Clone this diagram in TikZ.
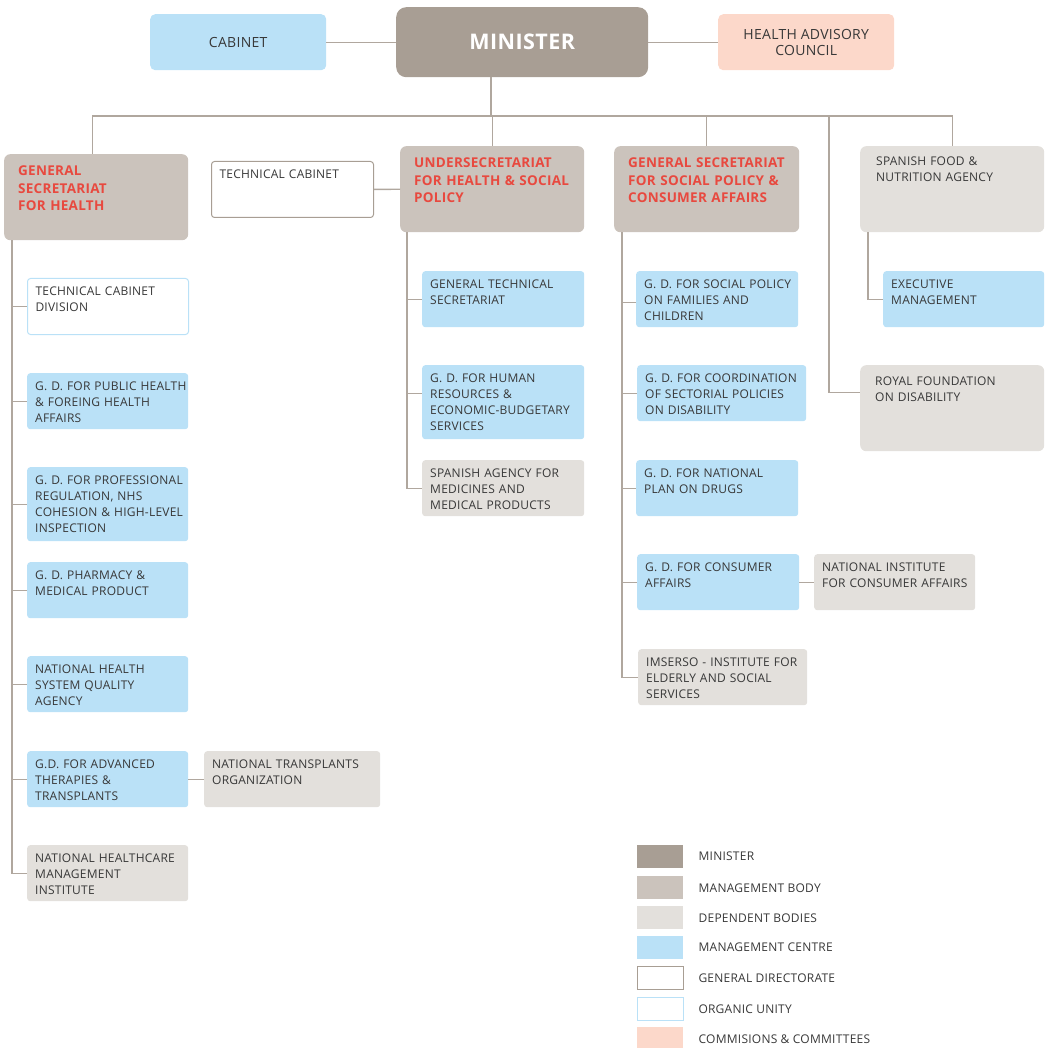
\documentclass[tikz,border=0pt]{standalone}
\usepackage{fontspec}
\setmainfont{Open Sans}[LetterSpace=2]
\usetikzlibrary{calc,positioning}

\definecolor{cmin}{HTML}{A89E94}
\definecolor{cbody}{HTML}{CBC3BC}
\definecolor{cdep}{HTML}{E3E0DC}
\definecolor{ccen}{HTML}{BAE1F7}
\definecolor{ccom}{HTML}{FCD8CA}
\definecolor{cred}{HTML}{E8493F}
\definecolor{ctxt}{HTML}{383838}
\definecolor{cline}{HTML}{B0A79E}

\newcommand{\unitfont}{\fontsize{12}{16}\selectfont}
\newcommand{\headfont}{\fontsize{13.5}{17.5}\selectfont\bfseries}

\begin{document}
\begin{tikzpicture}[x=1pt,y=-1pt]

\tikzset{
unit/.style={anchor=north west,inner xsep=8pt,inner ysep=0pt,rounded corners=3pt,align=left,
  font=\unitfont,text=ctxt,text width=145pt,text height=17pt,text depth=39pt,
  execute at begin node={\rightskip=-14pt plus 1fil\hyphenpenalty=10000}},
tall/.style={text depth=57pt},
cenbox/.style={unit,fill=ccen},
depbox/.style={unit,fill=cdep},
orgbox/.style={unit,fill=white,draw=ccen,line width=1pt},
dirbox/.style={unit,fill=white,draw=cmin,line width=1pt,text width=146pt},
headbox/.style={unit,fill=cbody,rounded corners=6pt,inner xsep=14pt,text width=156pt,
  font=\headfont,text=cred,text height=21.5pt,text depth=64.5pt},
depbig/.style={unit,fill=cdep,rounded corners=6pt,inner xsep=16pt,text width=152pt,
  text height=19.5pt,text depth=66.5pt},
topbox/.style={anchor=north west,inner sep=0pt,rounded corners=5pt,align=center,
  font=\fontsize{14}{16}\selectfont,text=ctxt,minimum width=176pt,minimum height=56pt},
minbox/.style={anchor=north west,inner sep=0pt,rounded corners=10pt,fill=cmin,
  font=\fontsize{21.5}{24}\selectfont\bfseries,text=white,minimum width=252pt,minimum height=70pt},
swatch/.style={anchor=north west,inner sep=0pt,minimum width=46pt,minimum height=23pt},
legtext/.style={right=15pt of #1,inner sep=0pt,font=\unitfont,text=ctxt},
link/.style={draw=cline,line width=1.3pt}
}

\useasboundingbox (0,0) rectangle (1047,1048);

% Top level
\node[minbox] (min) at (396,7) {MINISTER};
\node[topbox,fill=ccen] (cab) at (150,14) {CABINET};
\node[topbox,fill=ccom] (hac) at (718,14) {HEALTH ADVISORY\\COUNCIL};

% Management bodies
\node[headbox] (gsh) at (4,154) {GENERAL\\SECRETARIAT\\FOR HEALTH};
\node[dirbox] (tcab) at (211,161) {TECHNICAL CABINET};
\node[headbox] (under) at (400,146) {UNDERSECRETARIAT\\FOR HEALTH \& SOCIAL\\POLICY};
\node[headbox,text width=157pt] (gssp) at (614,146) {GENERAL SECRETARIAT\\FOR SOCIAL POLICY \&\\CONSUMER AFFAIRS};
\node[depbig] (sfood) at (860,146) {SPANISH FOOD \&\\NUTRITION AGENCY};
\node[depbig,inner xsep=15pt,text width=154pt,text height=20.5pt,text depth=65.5pt] (royal) at (860,365) {ROYAL FOUNDATION\\ON DISABILITY};

% General secretariat for health
\node[orgbox] (tcd) at (27,278) {TECHNICAL CABINET\\DIVISION};
\node[cenbox] (gdph) at (27,373) {G. D. FOR PUBLIC HEALTH\\\& FOREING HEALTH\\AFFAIRS};
\node[cenbox,tall] (gdpr) at (27,467) {G. D. FOR PROFESSIONAL\\REGULATION, NHS\\COHESION \& HIGH-LEVEL\\INSPECTION};
\node[cenbox] (gdpm) at (27,562) {G. D. PHARMACY \&\\MEDICAL PRODUCT};
\node[cenbox] (nhsq) at (27,656) {NATIONAL HEALTH\\SYSTEM QUALITY\\AGENCY};
\node[cenbox] (gdat) at (27,751) {G.D. FOR ADVANCED\\THERAPIES \&\\TRANSPLANTS};
\node[depbox,text width=160pt] (nto) at (204,751) {NATIONAL TRANSPLANTS\\ORGANIZATION};
\node[depbox] (nhmi) at (27,845) {NATIONAL HEALTHCARE\\MANAGEMENT\\INSTITUTE};

% Undersecretariat
\node[cenbox,text width=146pt] (gts) at (422,271) {GENERAL TECHNICAL\\SECRETARIAT};
\node[cenbox,tall,text width=146pt] (gdhr) at (422,365) {G. D. FOR HUMAN\\RESOURCES \&\\ECONOMIC-BUDGETARY\\SERVICES};
\node[depbox,text width=146pt] (aemps) at (422,460) {SPANISH AGENCY FOR\\MEDICINES AND\\MEDICAL PRODUCTS};

% Social policy & consumer affairs
\node[cenbox,text width=146pt] (gdfam) at (636,271) {G. D. FOR SOCIAL POLICY\\ON FAMILIES AND\\CHILDREN};
\node[cenbox,text width=153pt] (gddis) at (637,365) {G. D. FOR COORDINATION\\OF SECTORIAL POLICIES\\ON DISABILITY};
\node[cenbox,text width=146pt] (gdpnd) at (636,460) {G. D. FOR NATIONAL\\PLAN ON DRUGS};
\node[cenbox,text width=146pt] (gdcon) at (637,554) {G. D. FOR CONSUMER\\AFFAIRS};
\node[depbox] (inc) at (814,554) {NATIONAL INSTITUTE\\FOR CONSUMER AFFAIRS};
\node[depbox,text width=153pt] (imserso) at (638,649) {IMSERSO - INSTITUTE FOR\\ELDERLY AND SOCIAL\\SERVICES};

% Spanish food agency
\node[cenbox] (exec) at (883,271) {EXECUTIVE\\MANAGEMENT};

% Links
\coordinate (bus) at (491,116);
\coordinate (rfork) at (829,116);

\draw[link] (cab) -- (min);
\draw[link] (min) -- (hac);
\draw[link] (min.south -| bus) -- (bus);
\draw[link] ([xshift=-4pt]gsh.north) |- (bus) -| (sfood.north);
\draw[link] (under.north) -- (under.north |- bus);
\draw[link] (gssp.north) -- (gssp.north |- bus);
\draw[link] (rfork) |- ([yshift=16pt]royal.west);
\draw[link] (tcab) -- (under);

\draw[link] ([xshift=8pt]gsh.south west) |- (tcd.west);
\draw[link] ([xshift=8pt]gsh.south west) |- (gdph.west);
\draw[link] ([xshift=8pt]gsh.south west) |- (gdpr.west);
\draw[link] ([xshift=8pt]gsh.south west) |- (gdpm.west);
\draw[link] ([xshift=8pt]gsh.south west) |- (nhsq.west);
\draw[link] ([xshift=8pt]gsh.south west) |- (gdat.west);
\draw[link] ([xshift=8pt]gsh.south west) |- (nhmi.west);
\draw[link] (gdat) -- (nto);

\draw[link] ([xshift=7pt]under.south west) |- (gts.west);
\draw[link] ([xshift=7pt]under.south west) |- ([yshift=9pt]gdhr.west);
\draw[link] ([xshift=7pt]under.south west) |- (aemps.west);

\draw[link] ([xshift=8pt]gssp.south west) |- ([yshift=-3pt]gdfam.west);
\draw[link] ([xshift=8pt]gssp.south west) |- (gddis.west);
\draw[link] ([xshift=8pt]gssp.south west) |- (gdpnd.west);
\draw[link] ([xshift=8pt]gssp.south west) |- (gdcon.west);
\draw[link] ([xshift=8pt]gssp.south west) |- (imserso.west);
\draw[link] (gdcon) -- (inc);

\draw[link] ([xshift=8pt]sfood.south west) |- (exec.west);

% Legend
\node[swatch,fill=cmin] (lgmin) at (637,845) {};
\node[swatch,fill=cbody] (lgbody) at (637,876) {};
\node[swatch,fill=cdep] (lgdep) at (637,906) {};
\node[swatch,fill=ccen] (lgcen) at (637,936) {};
\node[swatch,fill=white,draw=cmin,line width=1.3pt] (lgdir) at (637,966) {};
\node[swatch,fill=white,draw=ccen,line width=1.3pt] (lgorg) at (637,997) {};
\node[swatch,fill=ccom] (lgcom) at (637,1027) {};

\node[legtext=lgmin] (ltmin) {MINISTER};
\node[legtext=lgbody] (ltbody) {MANAGEMENT BODY};
\node[legtext=lgdep] (ltdep) {DEPENDENT BODIES};
\node[legtext=lgcen] (ltcen) {MANAGEMENT CENTRE};
\node[legtext=lgdir,xshift=-1pt] (ltdir) {GENERAL DIRECTORATE};
\node[legtext=lgorg,xshift=-1pt] (ltorg) {ORGANIC UNITY};
\node[legtext=lgcom] (ltcom) {COMMISIONS \& COMMITTEES};

\end{tikzpicture}
\end{document}
